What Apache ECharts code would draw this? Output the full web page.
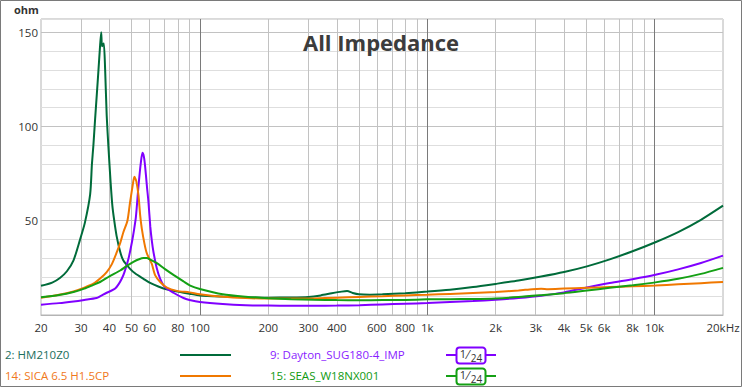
<!DOCTYPE html>
<html><head><meta charset="utf-8">
<script src="https://cdn.jsdelivr.net/npm/echarts@6/dist/echarts.min.js"></script>
<style>html,body{margin:0;padding:0;background:#fff}#c{width:743px;height:388px}</style>
</head><body><div id="c"></div>
<script>
// ---- data (frequency in Hz, impedance in ohm) ----
const hmName = '2: HM210Z0';
const hmFreq = [20,22.4,24.3,26,27.8,29.7,31.2,32.9,33.5,34.0,34.6,35.2,35.8,36.3,36.8,37.1,37.5,37.8,38.3,38.9,39.6,40.5,41.2,42,43,44.6,46,49.3,52,56.5,60.4,66,72,80,90,100,126,159,200,252,300,340,380,420,444,470,500,560,635,800,1000,1260,1590,2000,2520,3170,4000,5040,6350,8000,10080,12700,16000,20000];
const hmOhm  = [15.5,17.2,19.8,23.2,29,40,49,64,80,90,104,117,130,141,150,142.5,143.5,144,130,106,89,70,58,50,42,33.5,29,24.5,22,19.2,17,15,13.5,12.4,11.3,10.4,9.8,9.4,9.2,9.3,9.6,10.4,11.5,12.4,12.7,11.7,11,10.8,11,11.6,12.4,13.4,14.8,16.5,18.3,20.4,22.8,25.8,29.5,33.8,38.6,44,50.5,58];

const dayName = '9: Dayton_SUG180-4_IMP';
const dayFreq = [20,24,27.8,31,35.1,36.5,38.9,40.3,42.4,44,45.3,46.5,48.5,50.3,51.3,52.3,53.7,55,55.9,56.7,57.4,58.5,59.4,60.5,61.5,62.5,64.7,66.9,70,76.5,84.7,90,100,126,159,200,252,317,400,504,635,800,1000,1260,1590,2000,2520,3170,4000,5040,6350,8000,10080,12700,16000,20000];
const dayOhm  = [5.5,6.3,7.2,8,9,10,11.8,12.6,14,16.5,19.2,22.5,29.8,39,45,52,68.6,81,86,84,79,68,59.8,47,39,33.3,24.5,19.2,15,11.8,9.0,8.0,6.9,5.8,5.2,5.0,4.9,4.9,5.0,5.2,5.6,6,6.3,6.9,7.4,8.1,9,10.2,12,14.6,17,19,21.3,24.2,27.6,31.5];

const sicaName = '14: SICA 6.5 H1.5CP';
const sicaFreq = [20,24,27.8,31,34,36.5,38.9,41,43.1,44.7,46.1,48,49.3,50.5,51.5,52.5,53.7,54.6,55.5,57,58.3,60.4,61.5,63.6,66.9,71.6,79.2,90,100,126,159,200,252,317,400,504,635,800,1000,1260,1590,2000,2520,2900,3170,3400,4000,5040,6350,8000,10080,12700,16000,20000];
const sicaOhm  = [9.2,10.7,12.5,14.5,16.6,19.5,22.8,27,33.3,38.5,44,50,59.8,68,73.3,71,63.3,53,46,38,33,29,27,21,17.5,14.5,12.8,12,11,9.7,9.0,8.7,8.7,8.8,9.2,9.6,10,10.4,10.7,11.2,11.7,12.2,13,13.7,13.9,13.7,14,14.4,14.8,15.2,15.6,16.3,16.9,17.5];

const seasName = '15: SEAS_W18NX001';
const seasFreq = [20,24,27.8,31,34,36.4,40,44.6,48,51,54,56.5,58.3,60.5,64.7,70,76.5,84.7,90.6,100,126,159,200,252,317,400,504,635,800,1000,1260,1590,2000,2520,3170,4000,5040,6350,8000,10080,12700,16000,20000];
const seasOhm  = [9.4,10.6,12.2,14,16,17.5,20.5,23.6,26.3,28.2,29.6,30.2,30.2,29.4,27.5,24.5,21.3,17.8,15.6,13.8,11,9.7,8.9,8.4,8.1,7.9,7.8,7.9,8.0,8.3,8.4,8.5,8.8,9.5,10.5,11.6,13,14.4,15.8,17.3,19.2,21.8,25];

// ---- axes ----
const xGridFreqs = [30,40,50,60,70,80,90,200,300,400,500,600,700,800,900,2000,3000,4000,5000,6000,7000,8000,9000];
const xDecadeFreqs = [100,1000,10000];
const xLabelFreqs = [20,30,40,50,60,80,100,200,300,400,600,800,1000,2000,3000,4000,5000,6000,8000,10000,20000];
const xLabelTexts = ['20','30','40','50','60','80','100','200','300','400','600','800','1k','2k','3k','4k','5k','6k','8k','10k','20kHz'];
const yLabelValues = [50,100,150];

const L = Math.log10;
const xMin = L(20), xMax = L(20000);
function xLabel(v){
  for (let i=0;i<xLabelFreqs.length;i++) if (Math.abs(L(xLabelFreqs[i])-v)<1e-6) return xLabelTexts[i];
  return '';
}
function pts(f, o){ return f.map((x,i)=>[L(x), o[i]]); }

const colHM='#006b3a', colDay='#8000ff', colSica='#f07800', colSeas='#14a014';
const txtHM='#1c6e5c', txtDay='#8a1cff', txtSica='#f07820', txtSeas='#109a10';
const FONT='"Open Sans", "Noto Sans", sans-serif';

function ser(name, f, o, c){
  return {name, type:'line', data: pts(f,o), showSymbol:false, smooth:0.25,
    lineStyle:{color:c, width:2}, itemStyle:{color:c}, silent:true};
}

function legendLine(x1,x2,y,c){ return {type:'line', shape:{x1,y1:y,x2,y2:y}, style:{stroke:c, lineWidth:2}, silent:true}; }
function legendBox(x1,x2,y,c){
  return [
    {type:'line', shape:{x1,y1:y,x2:x1+10,y2:y}, style:{stroke:c,lineWidth:2}},
    {type:'line', shape:{x1:x2-10,y1:y,x2,y2:y}, style:{stroke:c,lineWidth:2}},
    {type:'rect', shape:{x:x1+10.5,y:y-7.5,width:29,height:16,r:3}, style:{stroke:c,lineWidth:2,fill:'#fff'}},
    {type:'text', x:x1+17, y:y-2, style:{text:'1', font:'11px '+FONT, fill:'#333', textAlign:'center', textVerticalAlign:'middle'}},
    {type:'text', x:x1+22, y:y-1, style:{text:'\u2044', font:'12px '+FONT, fill:'#333', textAlign:'center', textVerticalAlign:'middle'}},
    {type:'text', x:x1+30.5, y:y+3, style:{text:'24', font:'10px '+FONT, fill:'#333', textAlign:'center', textVerticalAlign:'middle'}}
  ];
}

const chart = echarts.init(document.getElementById('c'), null, {renderer:'svg'});
chart.setOption({
  animation:false,
  backgroundColor:'#fff',
  grid:{left:41,right:20,top:19,bottom:73,show:true,borderColor:'#b4b4b4',borderWidth:1,backgroundColor:'transparent'},
  xAxis:[{
    type:'value', min:xMin, max:xMax,
    axisLine:{show:true,lineStyle:{color:'#b4b4b4'}},
    axisTick:{show:false, customValues:xGridFreqs.map(L)},
    splitLine:{show:true, lineStyle:{color:'#c2c2c2', width:1}},
    axisLabel:{customValues:xLabelFreqs.map(L), formatter:xLabel, color:'#333', fontSize:11.5, fontFamily:FONT, margin:6}
  },{
    type:'value', min:xMin, max:xMax, position:'bottom',
    axisLine:{show:false}, axisTick:{show:false, customValues:xDecadeFreqs.map(L)},
    axisLabel:{show:false},
    splitLine:{show:true, lineStyle:{color:'#7a7a7a', width:1}}
  }],
  yAxis:{
    type:'value', min:0, max:157, interval:10,
    axisLine:{show:false}, axisTick:{show:false},
    splitLine:{show:true, lineStyle:{color:['#c2c2c2','#dedede','#dedede','#dedede','#dedede'], width:1}},
    axisLabel:{formatter:v=>yLabelValues.includes(v)?String(v):'', color:'#333', fontSize:11.5, fontFamily:FONT, margin:3}
  },
  series:[
    ser(hmName, hmFreq, hmOhm, colHM),
    ser(dayName, dayFreq, dayOhm, colDay),
    ser(sicaName, sicaFreq, sicaOhm, colSica),
    ser(seasName, seasFreq, seasOhm, colSeas)
  ],
  graphic:[
    {type:'rect', shape:{x:0.5,y:0.5,width:741,height:386}, style:{stroke:'#7a7a7a', lineWidth:1, fill:'none'}, silent:true, z:100},
    {type:'text', x:381, y:42, style:{text:'All Impedance', font:'bold 22px '+FONT, fill:'#3c3c3c', textAlign:'center', textVerticalAlign:'middle'}, z:100},
    {type:'text', x:14, y:9.5, style:{text:'ohm', font:'bold 11px '+FONT, fill:'#333', textAlign:'left', textVerticalAlign:'middle'}},
    {type:'text', x:5, y:354, style:{text:hmName, font:'11.5px '+FONT, fill:txtHM, textVerticalAlign:'middle'}},
    legendLine(180,231,355,colHM),
    {type:'text', x:5, y:375, style:{text:sicaName, font:'11.5px '+FONT, fill:txtSica, textVerticalAlign:'middle'}},
    legendLine(180,231,376,colSica),
    {type:'text', x:270, y:354, style:{text:dayName, font:'11.5px '+FONT, fill:txtDay, textVerticalAlign:'middle'}},
    ...legendBox(446,496,355,colDay),
    {type:'text', x:270, y:375, style:{text:seasName, font:'11.5px '+FONT, fill:txtSeas, textVerticalAlign:'middle'}},
    ...legendBox(446,496,376,colSeas)
  ]
});
</script></body></html>
